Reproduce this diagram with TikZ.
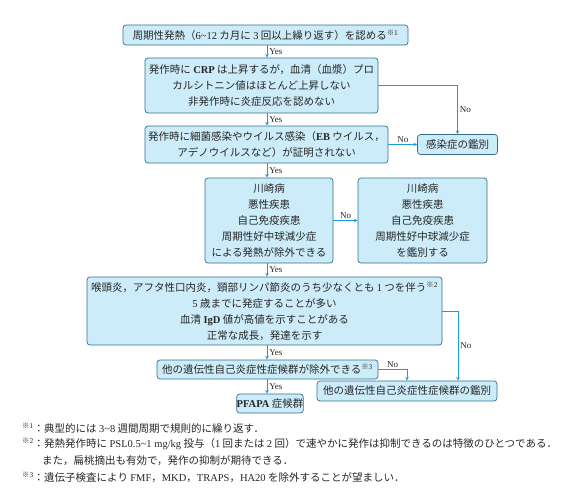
\documentclass[tikz,border=0pt]{standalone}
\usepackage{fontspec}
\setmainfont{Noto Sans CJK JP}
\newfontfamily\serifen{Liberation Serif}
\newcommand\tnr[1]{{\serifen #1}}
\newcommand\fnm[1]{\textsuperscript{※\tnr{#1}}}
\definecolor{boxfill}{RGB}{205,236,249}
\definecolor{boxline}{RGB}{52,110,140}
\definecolor{arrowc}{RGB}{24,158,214}
\begin{document}
\begin{tikzpicture}[x=1pt, y=-1pt,
                    box/.style = {draw=boxline, fill=boxfill, rounded corners=3pt, line width=.7pt,
                                  align=center, inner sep=0pt, text=black!85,
                                  font=\fontsize{10.5}{16}\selectfont},
                    arrow/.style = {draw=arrowc, line width=.7pt, -stealth},
                    lab/.style = {font=\fontsize{9}{10}\selectfont\serifen, inner sep=2pt, text=black!85},
                    note/.style = {anchor=west, inner sep=0pt, text=black!85, align=left,
                                   font=\fontsize{10.5}{16}\selectfont}]
                    \useasboundingbox (0,0) rectangle (580,501);
                    \coordinate (spine) at (267,0);

                    \node [box, minimum width=285pt, minimum height=20pt] (crit) at (265.5,35)
                        {周期性発熱（\tnr{6\textasciitilde12} カ月に \tnr{3} 回以上繰り返す）を認める\fnm{1}};
                    \node [box, minimum width=233pt, minimum height=55pt] (crp) at (261.5,85.5)
                        {発作時に \tnr{\bfseries CRP} は上昇するが，血清（血漿）プロ\\カルシトニン値はほとんど上昇しない\\非発作時に炎症反応を認めない};
                    \node [box, minimum width=243pt, minimum height=37pt] (infex) at (266.5,144.5)
                        {発作時に細菌感染やウイルス感染（\tnr{\bfseries EB} ウイルス，\\アデノウイルスなど）が証明されない};
                    \node [box, minimum width=80pt, minimum height=20pt] (infdx) at (457.5,144.5) {感染症の鑑別};

                    \node [box, minimum width=128pt, minimum height=85pt] (kawa) at (269,220.5)
                        {川崎病\\悪性疾患\\自己免疫疾患\\周期性好中球減少症\\による発熱が除外できる};
                    \node [box, minimum width=129pt, minimum height=85pt] (kawadx) at (422.5,220.5)
                        {川崎病\\悪性疾患\\自己免疫疾患\\周期性好中球減少症\\を鑑別する};

                    \node [box, minimum width=355pt, minimum height=68pt] (sympt) at (264.5,311)
                        {喉頭炎，アフタ性口内炎，頸部リンパ節炎のうち少なくとも \tnr{1} つを伴う\fnm{2}\\\tnr{5} 歳までに発症することが多い\\血清 \tnr{\bfseries IgD} 値が高値を示すことがある\\正常な成長，発達を示す};

                    \node [box, minimum width=221pt, minimum height=19pt] (gen) at (267.5,369.5)
                        {他の遺伝性自己炎症性症候群が除外できる\fnm{3}};
                    \node [box, minimum width=180pt, minimum height=20pt] (gendx) at (407,391)
                        {他の遺伝性自己炎症性症候群の鑑別};
                    \node [box, minimum width=56pt, minimum height=19pt] (pfapa) at (270,403.5)
                        {\tnr{\bfseries PFAPA} 症候群};

                    % main column
                    \draw[arrow] (crit.south -| spine) -- node[lab, right] {Yes} (crp.north -| spine);
                    \draw[arrow] (crp.south -| spine) -- node[lab, right] {Yes} (infex.north -| spine);
                    \draw[arrow] (infex.south -| spine) -- node[lab, right] {Yes} (kawa.north -| spine);
                    \draw[arrow] (kawa.south -| spine) -- node[lab, right] {Yes} (sympt.north -| spine);
                    \draw[arrow] (sympt.south -| spine) -- node[lab, right] {Yes} (gen.north -| spine);
                    \draw[arrow] (gen.south -| spine) -- node[lab, right] {Yes} (pfapa.north -| spine);

                    % No branches
                    \draw[arrow] (crp.east) -| node[lab, right, pos=.75] {No} (infdx.north);
                    \draw[arrow] (infex.east) -- node[lab, above] {No} (infdx.west);
                    \draw[arrow] (kawa.east) -- node[lab, above] {No} (kawadx.west);
                    \draw[arrow] (sympt.east) -| node[lab, right, pos=.75] {No} ([xshift=51pt]gendx.north);
                    \draw[arrow] (gen.east) -| node[lab, above, pos=.25] {No} (gendx.north);

                    % notes
                    \node [note] (note1) at (22,428) {\fnm{1}：典型的には \tnr{3\textasciitilde8} 週間周期で規則的に繰り返す．};
                    \node [note] (note2) at (22,444) {\fnm{2}：発熱発作時に \tnr{PSL0.5\textasciitilde1 mg/kg} 投与（\tnr{1} 回または \tnr{2} 回）で速やかに発作は抑制できるのは特徴のひとつである．};
                    \node [note] (note2b) at (42,461) {また，扁桃摘出も有効で，発作の抑制が期待できる．};
                    \node [note] (note3) at (22,477) {\fnm{3}：遺伝子検査により \tnr{FMF}，\tnr{MKD}，\tnr{TRAPS}，\tnr{HA20} を除外することが望ましい．};
                \end{tikzpicture}
\end{document}
